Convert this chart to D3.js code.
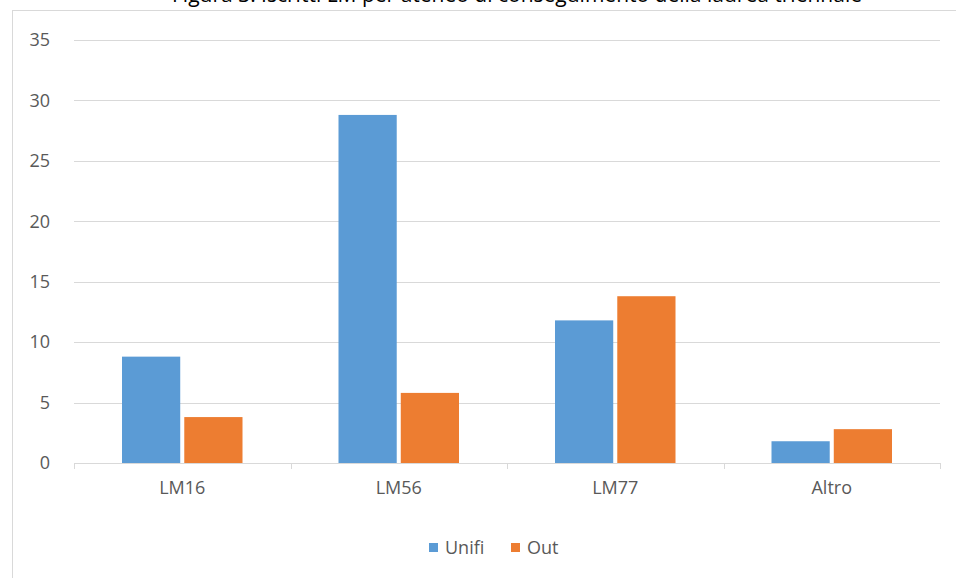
<!DOCTYPE html>
<html><head><meta charset="utf-8">
<script src="https://cdn.jsdelivr.net/npm/d3@7"></script>
<style>body{margin:0;background:#fff}svg{display:block}</style>
</head><body>
<svg id="c" width="956" height="578"></svg>
<script>
const categories = ["LM16", "LM56", "LM77", "Altro"];
const seriesNames = ["Unifi", "Out"];
const unifi = [8.8, 28.8, 11.8, 1.8];
const out = [3.8, 5.8, 13.8, 2.8];
const yTicks = [0, 5, 10, 15, 20, 25, 30, 35];
const colors = ["#5b9bd5", "#ed7d31"];
const title = "Figura 3. Iscritti LM per ateneo di conseguimento della laurea triennale";

const svg = d3.select("#c");
const font = "'Open Sans', 'Noto Sans', sans-serif";
// chart border
svg.append("rect").attr("x", 12.5).attr("y", 10.5).attr("width", 960).attr("height", 600)
  .attr("fill", "#fff").attr("stroke", "#d9d9d9");
// title (cut off at the top edge, as in the reference)
svg.append("text").attr("x", 517).attr("y", 2).attr("text-anchor", "middle")
  .attr("font-family", font).attr("font-size", 21).attr("fill", "#000").text(title);

const x0 = d3.scaleBand().domain(categories).range([74, 940]).paddingInner(0).paddingOuter(0);
const y = d3.scaleLinear().domain([0, 35]).range([463, 40]);
const groupPad = 48;
const x1 = d3.scaleBand().domain(seriesNames).range([groupPad, x0.bandwidth() - groupPad]).paddingInner(0.065);

const g = svg.append("g");
g.selectAll("line.grid").data(yTicks.filter(d => d > 0)).join("line")
  .attr("x1", 74).attr("x2", 940).attr("y1", d => Math.round(y(d)) + 0.5).attr("y2", d => Math.round(y(d)) + 0.5)
  .attr("stroke", "#d9d9d9").attr("stroke-width", 1);

g.selectAll("text.yl").data(yTicks).join("text")
  .attr("x", 50).attr("y", d => y(d)).attr("dy", "0.35em").attr("text-anchor", "end")
  .attr("font-family", font).attr("font-size", 18).attr("fill", "#595959").text(d => d);

const series = [unifi, out];
categories.forEach((c, i) => {
  series.forEach((s, j) => {
    g.append("rect").attr("x", x0(c) + x1(seriesNames[j])).attr("width", x1.bandwidth())
      .attr("y", y(s[i])).attr("height", y(0) - y(s[i])).attr("fill", colors[j]);
  });
});

// x axis
g.append("line").attr("x1", 74).attr("x2", 940).attr("y1", 463.5).attr("y2", 463.5).attr("stroke", "#d9d9d9");
const bounds = categories.map(c => x0(c)).concat([x0.range()[1]]);
g.selectAll("line.tk").data(bounds).join("line")
  .attr("x1", d => Math.round(d) + 0.5).attr("x2", d => Math.round(d) + 0.5).attr("y1", 463).attr("y2", 469)
  .attr("stroke", "#d9d9d9");
g.selectAll("text.xl").data(categories).join("text")
  .attr("x", d => x0(d) + x0.bandwidth() / 2).attr("y", 494).attr("text-anchor", "middle")
  .attr("font-family", font).attr("font-size", 18).attr("fill", "#595959").text(d => d);

// legend
const leg = [{n: "Unifi", x: 429}, {n: "Out", x: 511}];
leg.forEach((l, i) => {
  svg.append("rect").attr("x", l.x).attr("y", 543).attr("width", 9).attr("height", 9).attr("fill", colors[i]);
  svg.append("text").attr("x", l.x + 16).attr("y", 548).attr("dy", "0.35em")
    .attr("font-family", font).attr("font-size", 18).attr("fill", "#595959").text(l.n);
});
</script>
</body></html>
